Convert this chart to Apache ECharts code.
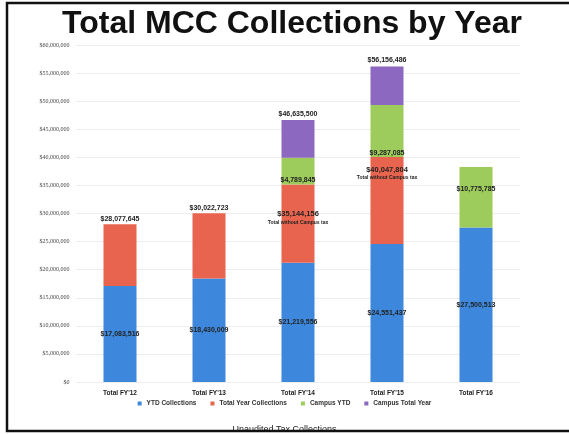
<!DOCTYPE html>
<html>
<head>
<meta charset="utf-8">
<script src="https://cdn.jsdelivr.net/npm/echarts@6/dist/echarts.min.js"></script>
<style>
html,body{margin:0;padding:0;background:#fff;}
#c{width:569px;height:434px;}
</style>
</head>
<body>
<div id="c"></div>
<script>
const categories = ["Total FY'12", "Total FY'13", "Total FY'14", "Total FY'15", "Total FY'16"];
// YTD collections
const ytdValues = [17083516, 18430009, 21219556, 24551437, 27500513];
// Total year collections (cumulative total without campus tax)
const totalYearValues = [28077645, 30022723, 35144156, 40047804, null];
// Campus YTD amounts
const campusYtdValues = [null, null, 4789845, 9287085, 10775785];
// Grand totals incl. campus total year
const grandTotalValues = [null, null, 46635500, 56156486, null];
const yTicks = [0, 5000000, 10000000, 15000000, 20000000, 25000000, 30000000, 35000000, 40000000, 45000000, 50000000, 55000000, 60000000];

const fmt = v => '$' + Math.round(v).toLocaleString('en-US');

const redSeg = totalYearValues.map((t, i) => t == null ? null : t - ytdValues[i]);
const greenSeg = campusYtdValues.slice();
const purpleSeg = grandTotalValues.map((g, i) => g == null ? null : g - totalYearValues[i] - campusYtdValues[i]);

const lblBase = {show: true, fontSize: 7, fontWeight: 'bold', color: '#222', fontFamily: 'Liberation Sans'};

const chart = echarts.init(document.getElementById('c'), null, {renderer: 'canvas'});
chart.setOption({
  animation: false,
  backgroundColor: '#fff',
  title: {
    text: 'Total MCC Collections by Year',
    left: 287, textAlign: 'center', top: 3,
    textStyle: {fontSize: 32, fontWeight: 'bold', color: '#111', fontFamily: 'Liberation Sans'}
  },
  legend: {
    bottom: 22, left: 'center',
    itemWidth: 4, itemHeight: 4, itemGap: 14,
    icon: 'rect',
    textStyle: {fontSize: 6.5, fontWeight: 'bold', color: '#333', fontFamily: 'Liberation Sans'},
    data: ['YTD Collections', 'Total Year Collections', 'Campus YTD', 'Campus Total Year']
  },
  grid: {left: 75.5, right: 48.5, top: 45, bottom: 52},
  xAxis: {
    type: 'category', data: categories,
    axisLine: {show: false}, axisTick: {show: false},
    axisLabel: {fontSize: 6.5, fontWeight: 'bold', color: '#222', margin: 8, fontFamily: 'Liberation Sans'}
  },
  yAxis: {
    type: 'value', min: yTicks[0], max: yTicks[yTicks.length - 1], interval: 5000000,
    axisLine: {show: false}, axisTick: {show: false},
    splitLine: {lineStyle: {color: '#ededed', width: 1}},
    axisLabel: {fontSize: 6, color: '#444', margin: 6, fontFamily: 'Liberation Serif', formatter: v => fmt(v)}
  },
  series: [
    {
      name: 'YTD Collections', type: 'bar', stack: 's', barWidth: 33,
      itemStyle: {color: '#3d88dc'},
      label: Object.assign({}, lblBase, {position: 'inside', formatter: p => fmt(p.value)}),
      data: ytdValues
    },
    {
      name: 'Total Year Collections', type: 'bar', stack: 's',
      itemStyle: {color: '#e8644e'},
      data: redSeg.map((v, i) => {
        if (v == null) return null;
        if (campusYtdValues[i] == null) {
          return {value: v, label: Object.assign({}, lblBase, {position: 'top', distance: 2, formatter: () => fmt(totalYearValues[i])})};
        }
        return {value: v, label: Object.assign({}, lblBase, {
          position: 'inside', offset: [0, i === 2 ? -6 : -27],
          formatter: () => '{a|' + fmt(totalYearValues[i]) + '}\n{b|Total without Campus tax}',
          rich: {a: {fontSize: 7.5, fontWeight: 'bold', color: '#222', lineHeight: 9}, b: {fontSize: 5, color: '#222', lineHeight: 7}}
        })};
      })
    },
    {
      name: 'Campus YTD', type: 'bar', stack: 's',
      itemStyle: {color: '#9dcb5c'},
      data: greenSeg.map((v, i) => {
        if (v == null) return null;
        if (i === 4) return {value: v, label: Object.assign({}, lblBase, {position: 'inside', offset: [0, -8], formatter: () => fmt(v)})};
        return {value: v, label: Object.assign({}, lblBase, {position: 'insideBottom', distance: 1, formatter: () => fmt(v)})};
      })
    },
    {
      name: 'Campus Total Year', type: 'bar', stack: 's',
      itemStyle: {color: '#8c68c0'},
      data: purpleSeg.map((v, i) => {
        if (v == null) return null;
        return {value: v, label: Object.assign({}, lblBase, {position: 'top', distance: 3, formatter: () => fmt(grandTotalValues[i])})};
      })
    }
  ],
  graphic: [
    {type: 'text', left: 'center', top: 425, z: 10,
     style: {text: 'Unaudited Tax Collections', fontSize: 9, fill: '#222', fontFamily: 'Liberation Sans'}},
    {type: 'rect', z: 20, shape: {x: 7, y: 3, width: 570, height: 428},
     style: {fill: 'none', stroke: '#111', lineWidth: 2.5}}
  ]
});
</script>
</body>
</html>
